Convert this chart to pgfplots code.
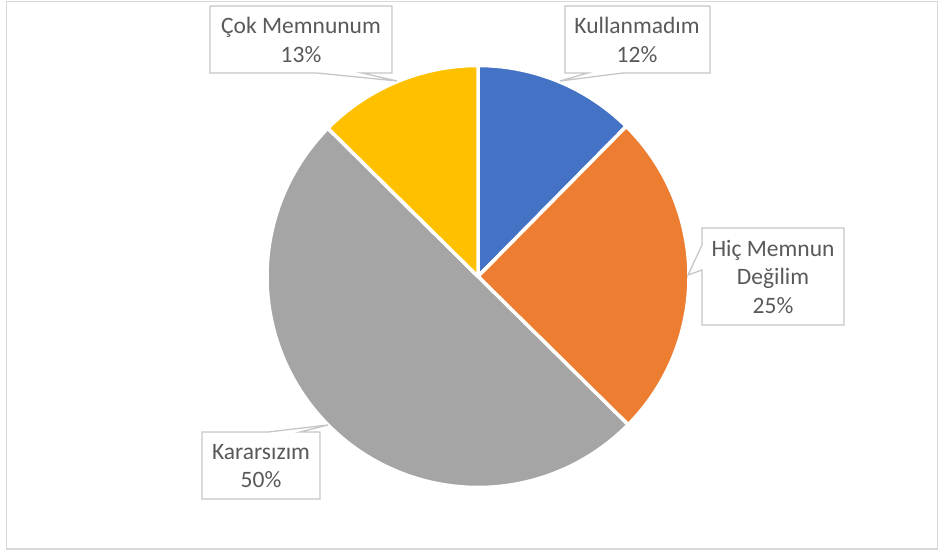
\documentclass[border=0pt]{standalone}
\usepackage{pgfplots}
\pgfplotsset{compat=1.18}
\usepackage{pgfplotstable}
\usepackage{fontspec}
\setmainfont{Carlito}
\definecolor{cA}{HTML}{4472C4}
\definecolor{cB}{HTML}{ED7D31}
\definecolor{cC}{HTML}{A5A5A5}
\definecolor{cD}{HTML}{FFC000}
\definecolor{tcol}{HTML}{595959}
\definecolor{bcol}{HTML}{C6C6C6}
\definecolor{ocol}{HTML}{D9D9D9}

% slices in clockwise order starting at 12 o'clock
\pgfplotstableread{
label value color
Kullanmadim 12.4 cA
HicMemnunDegilim 25 cB
Kararsizim 50 cC
CokMemnunum 12.6 cD
}\piedata

\begin{document}
\begin{tikzpicture}
\begin{axis}[x=1pt,y=1pt,xmin=0,xmax=941,ymin=0,ymax=553,
  hide axis, clip=false, scale only axis]
\path (axis cs:0,0) rectangle (axis cs:941,553);
\draw[ocol, line width=1.5pt] (axis cs:6.5,551.5) rectangle (axis cs:937.5,4);
\gdef\start{90}
\pgfplotsforeachungrouped \i in {0,...,3}{%
  \pgfplotstablegetelem{\i}{value}\of\piedata \let\v=\pgfplotsretval
  \pgfplotstablegetelem{\i}{color}\of\piedata \let\c=\pgfplotsretval
  \pgfmathsetmacro{\stop}{\start-3.6*\v}%
  \edef\temp{\noexpand\addplot[fill=\c, draw=white, line width=3.5pt, line join=round, domain=\stop:\start, samples=120] ({478+211*cos(x)},{276.5+211*sin(x)}) -- (axis cs:478,276.5) -- cycle;}%
  \temp
  \global\let\start\stop
}
% callout boxes
\draw[bcol, line width=1.3pt, fill=white] (axis cs:210,547)--(axis cs:392,547)--(axis cs:392,480)--(axis cs:362,480)--(axis cs:397,472)--(axis cs:317,480)--(axis cs:210,480)--cycle;
\draw[bcol, line width=1.3pt, fill=white] (axis cs:565,547)--(axis cs:710,547)--(axis cs:710,480)--(axis cs:623,480)--(axis cs:560,472)--(axis cs:588,480)--(axis cs:565,480)--cycle;
\draw[bcol, line width=1.3pt, fill=white] (axis cs:702,325)--(axis cs:844,325)--(axis cs:844,228)--(axis cs:702,228)--(axis cs:702,283)--(axis cs:688,278)--(axis cs:702,308)--cycle;
\draw[bcol, line width=1.3pt, fill=white] (axis cs:202,121)--(axis cs:268,121)--(axis cs:328,128)--(axis cs:300,121)--(axis cs:320,121)--(axis cs:320,54)--(axis cs:202,54)--cycle;
\tikzset{lbl/.style={align=center, text=tcol, inner sep=0pt, font=\fontsize{23.5}{28.5}\selectfont}}
\node[lbl] at (axis cs:301,513) {Çok Memnunum\\13\%};
\node[lbl] at (axis cs:637,513) {Kullanmadım\\12\%};
\node[lbl] at (axis cs:773,276) {Hiç Memnun\\Değilim\\25\%};
\node[lbl] at (axis cs:261,87) {Kararsızım\\50\%};
\end{axis}
\end{tikzpicture}
\end{document}
